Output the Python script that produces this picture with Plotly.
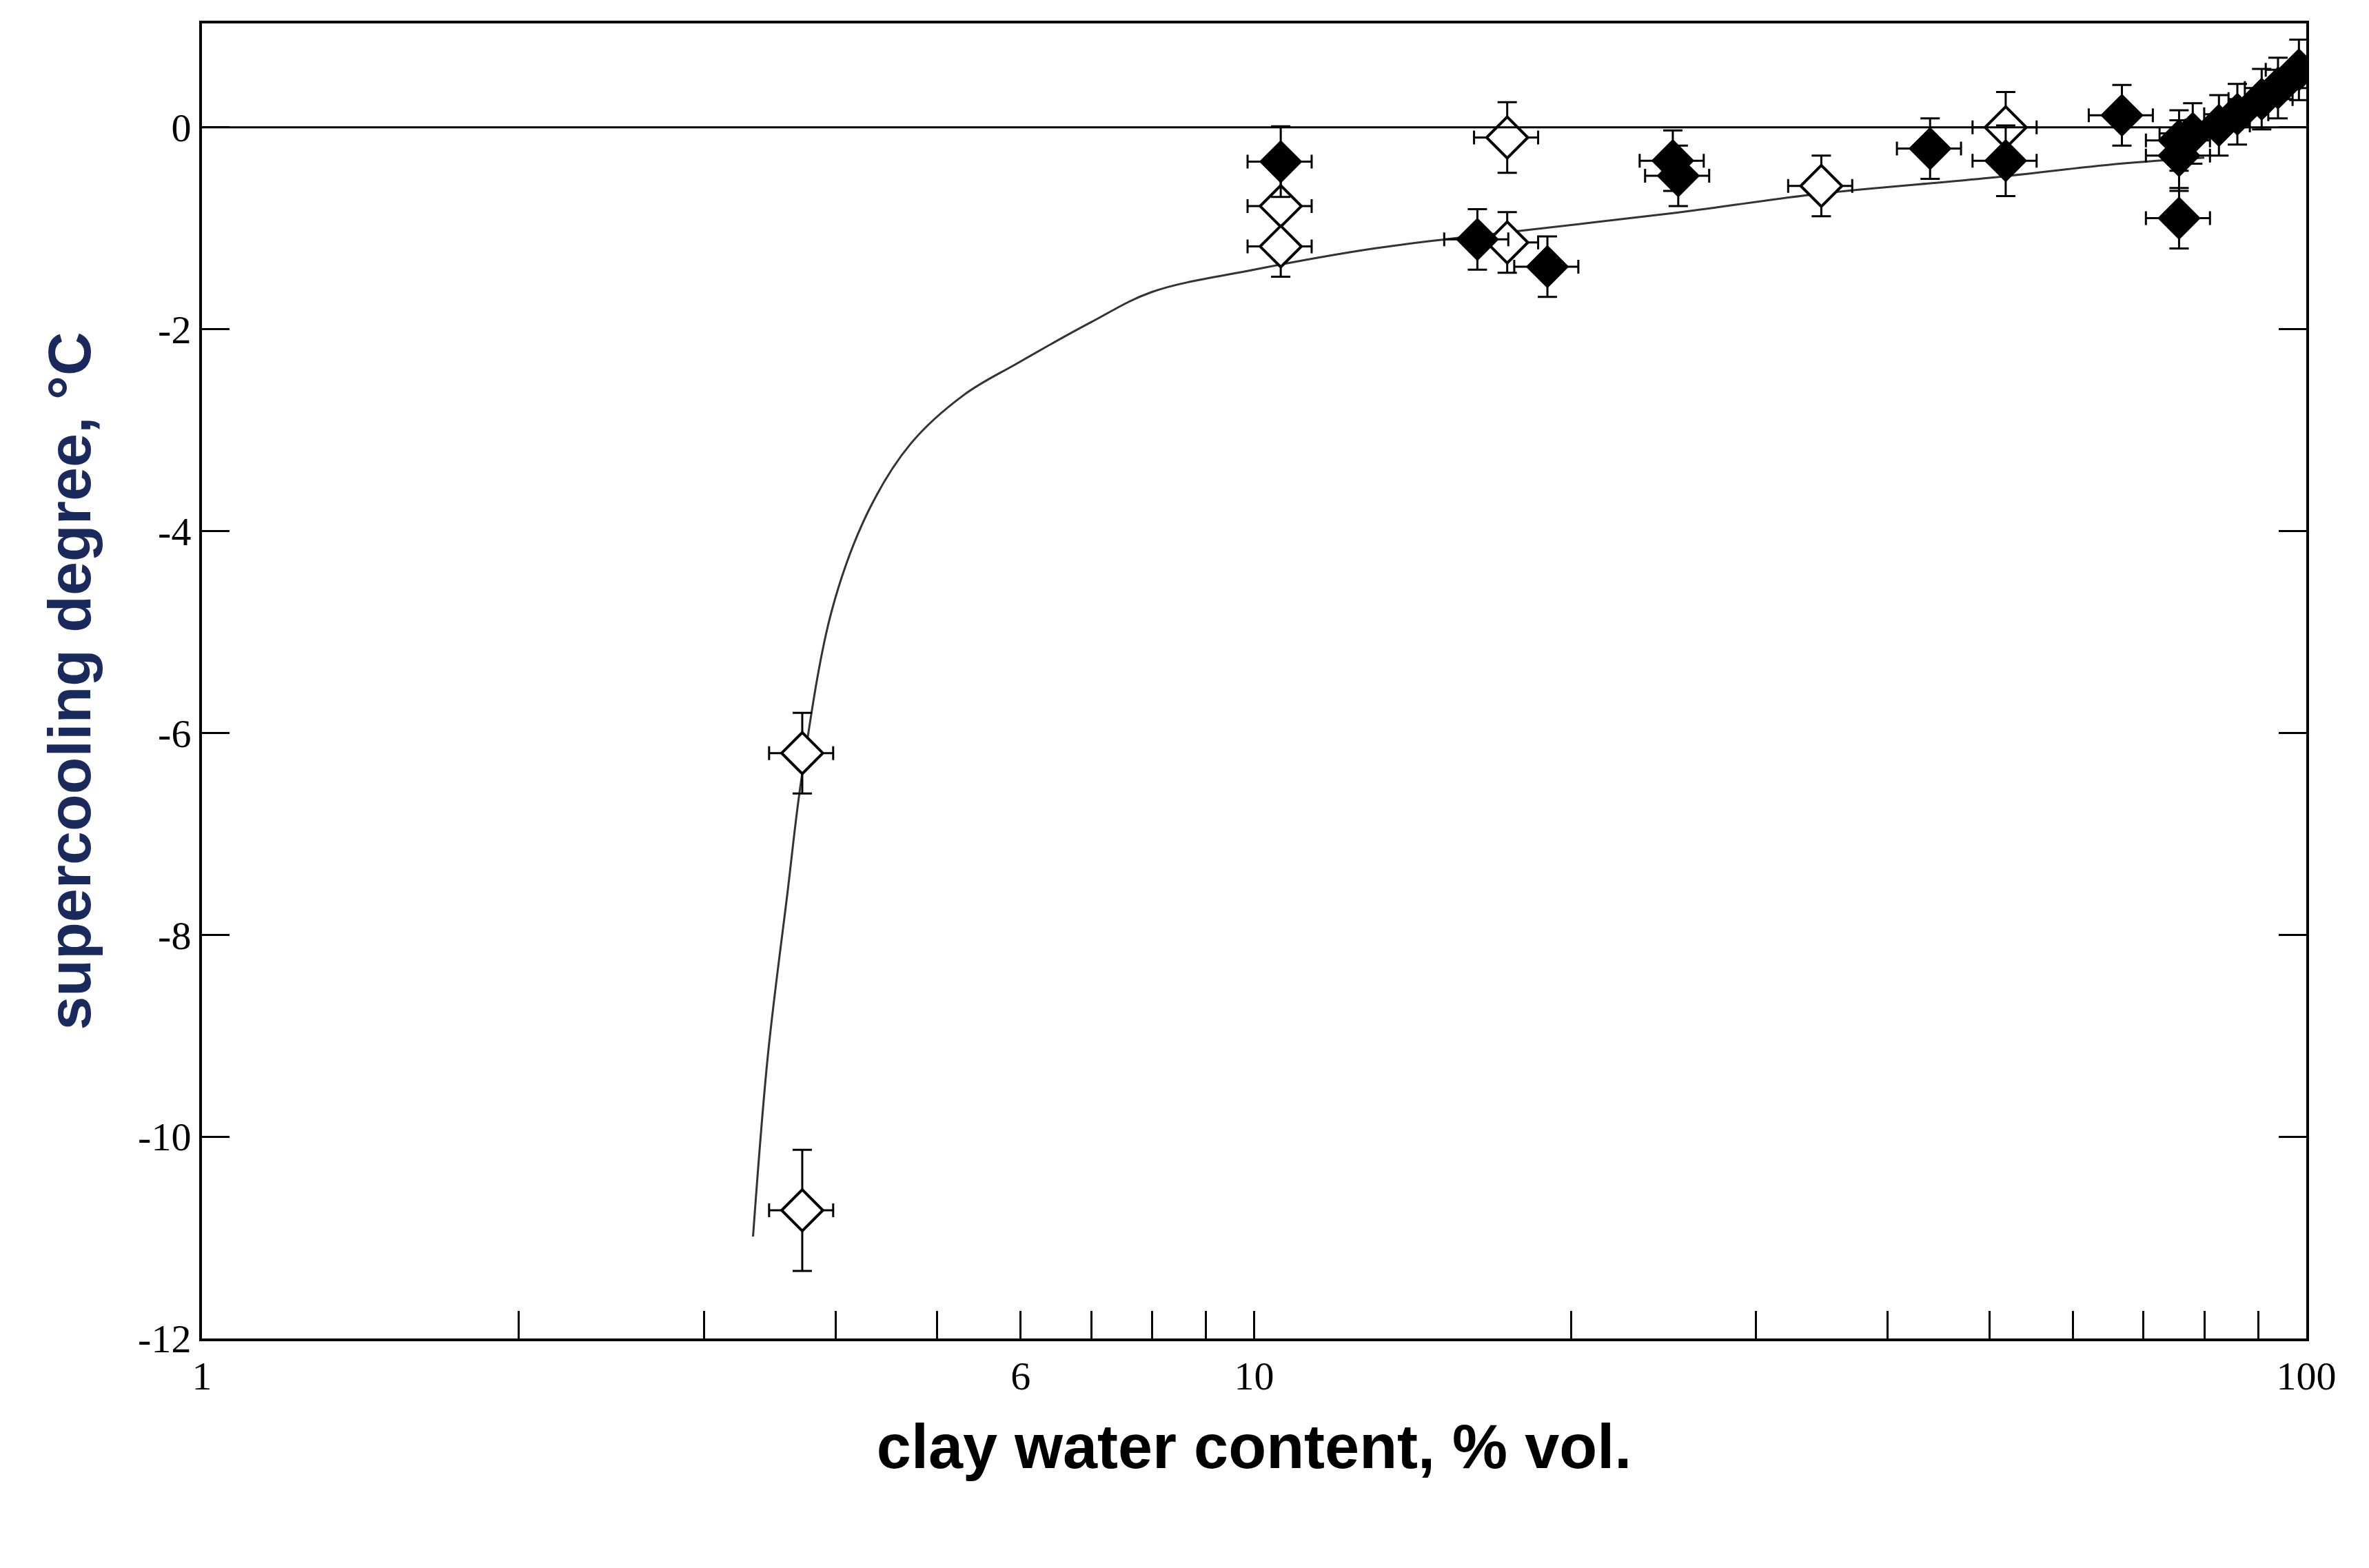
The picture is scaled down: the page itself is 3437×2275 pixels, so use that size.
import plotly.graph_objects as go

# open diamonds
open_x = [3.72, 3.72, 10.6, 10.6, 17.4, 17.4, 34.6, 51.8]
open_y = [-6.2, -10.73, -0.78, -1.18, -0.1, -1.14, -0.58, 0.0]
open_ey = [0.4, 0.6, 0.35, 0.3, 0.35, 0.3, 0.3, 0.35]

# filled diamonds
fill_x = [10.6, 16.3, 19.0, 25.0, 25.3, 43.9, 51.8, 66.8, 75.7, 75.7, 75.7,
          78.0, 82.6, 86.0, 90.7, 94.0, 98.4]
fill_y = [-0.34, -1.11, -1.38, -0.33, -0.48, -0.21, -0.33, 0.12, -0.28, -0.9, -0.13,
          -0.06, 0.02, 0.13, 0.28, 0.39, 0.57]
fill_ey = [0.35, 0.3, 0.3, 0.3, 0.3, 0.3, 0.35, 0.3, 0.35, 0.3, 0.3,
           0.3, 0.3, 0.3, 0.3, 0.3, 0.3]

# fitted curve
curve_x = [3.34, 3.45, 3.6, 3.72, 3.97, 4.3, 4.72, 5.3, 5.95, 7.0, 8.0, 10.0,
           13.0, 17.7, 25.0, 34.3, 50.0, 66.5, 80.0]
curve_y = [-10.99, -9.2, -7.6, -6.4, -4.78, -3.8, -3.13, -2.65, -2.34, -1.93, -1.63,
           -1.41, -1.2, -1.03, -0.85, -0.66, -0.5, -0.36, -0.3]

x_tickvals = [1, 2, 3, 4, 5, 6, 7, 8, 9, 10, 20, 30, 40, 50, 60, 70, 80, 90, 100]
x_ticktext = ["1", "", "", "", "", "6", "", "", "", "10", "", "", "", "", "", "", "", "", "100"]
y_tickvals = [0, -2, -4, -6, -8, -10, -12]
y_ticktext = ["0", "-2", "-4", "-6", "-8", "-10", "-12"]

err_x = dict(type="percent", value=7, color="black", thickness=3, width=10)

fig = go.Figure()
fig.add_trace(go.Scatter(x=curve_x, y=curve_y, mode="lines",
                         line=dict(color="#333333", width=3, shape="spline", smoothing=1.0),
                         showlegend=False))
fig.add_trace(go.Scatter(
    x=open_x, y=open_y, mode="markers", showlegend=False,
    marker=dict(symbol="diamond", size=46, color="white", line=dict(color="black", width=4)),
    error_x=err_x,
    error_y=dict(type="data", array=open_ey, color="black", thickness=3, width=14),
))
fig.add_trace(go.Scatter(
    x=fill_x, y=fill_y, mode="markers", showlegend=False,
    marker=dict(symbol="diamond", size=46, color="black", line=dict(color="black", width=2)),
    error_x=err_x,
    error_y=dict(type="data", array=fill_ey, color="black", thickness=3, width=14),
))
fig.add_hline(y=0, line=dict(color="black", width=3))

fig.update_layout(
    width=3437, height=2275,
    margin=dict(l=285, r=99, t=26, b=341),
    plot_bgcolor="white", paper_bgcolor="white",
    font=dict(family="Liberation Serif", color="black"),
)
fig.update_xaxes(
    type="log", range=[0, 2], tickvals=x_tickvals, ticktext=x_ticktext,
    ticks="inside", ticklen=40, tickwidth=3, tickcolor="black",
    showline=True, linecolor="black", linewidth=4, mirror=True, showgrid=False,
    tickfont=dict(size=58), zeroline=False,
    title=dict(text="<b>clay water content, % vol.</b>",
               font=dict(family="Liberation Sans", size=90, color="black"), standoff=40),
)
fig.update_yaxes(
    range=[-12, 1.03], tickvals=y_tickvals, ticktext=y_ticktext,
    ticks="inside", ticklen=40, tickwidth=3, tickcolor="black",
    showline=True, linecolor="black", linewidth=4, mirror="ticks", showgrid=False,
    tickfont=dict(size=58), zeroline=False,
    title=dict(text="<b>supercooling degree, °C</b>",
               font=dict(family="Liberation Sans", size=88, color="#1b2a5c"), standoff=40),
)

fig.write_html("out.html")
